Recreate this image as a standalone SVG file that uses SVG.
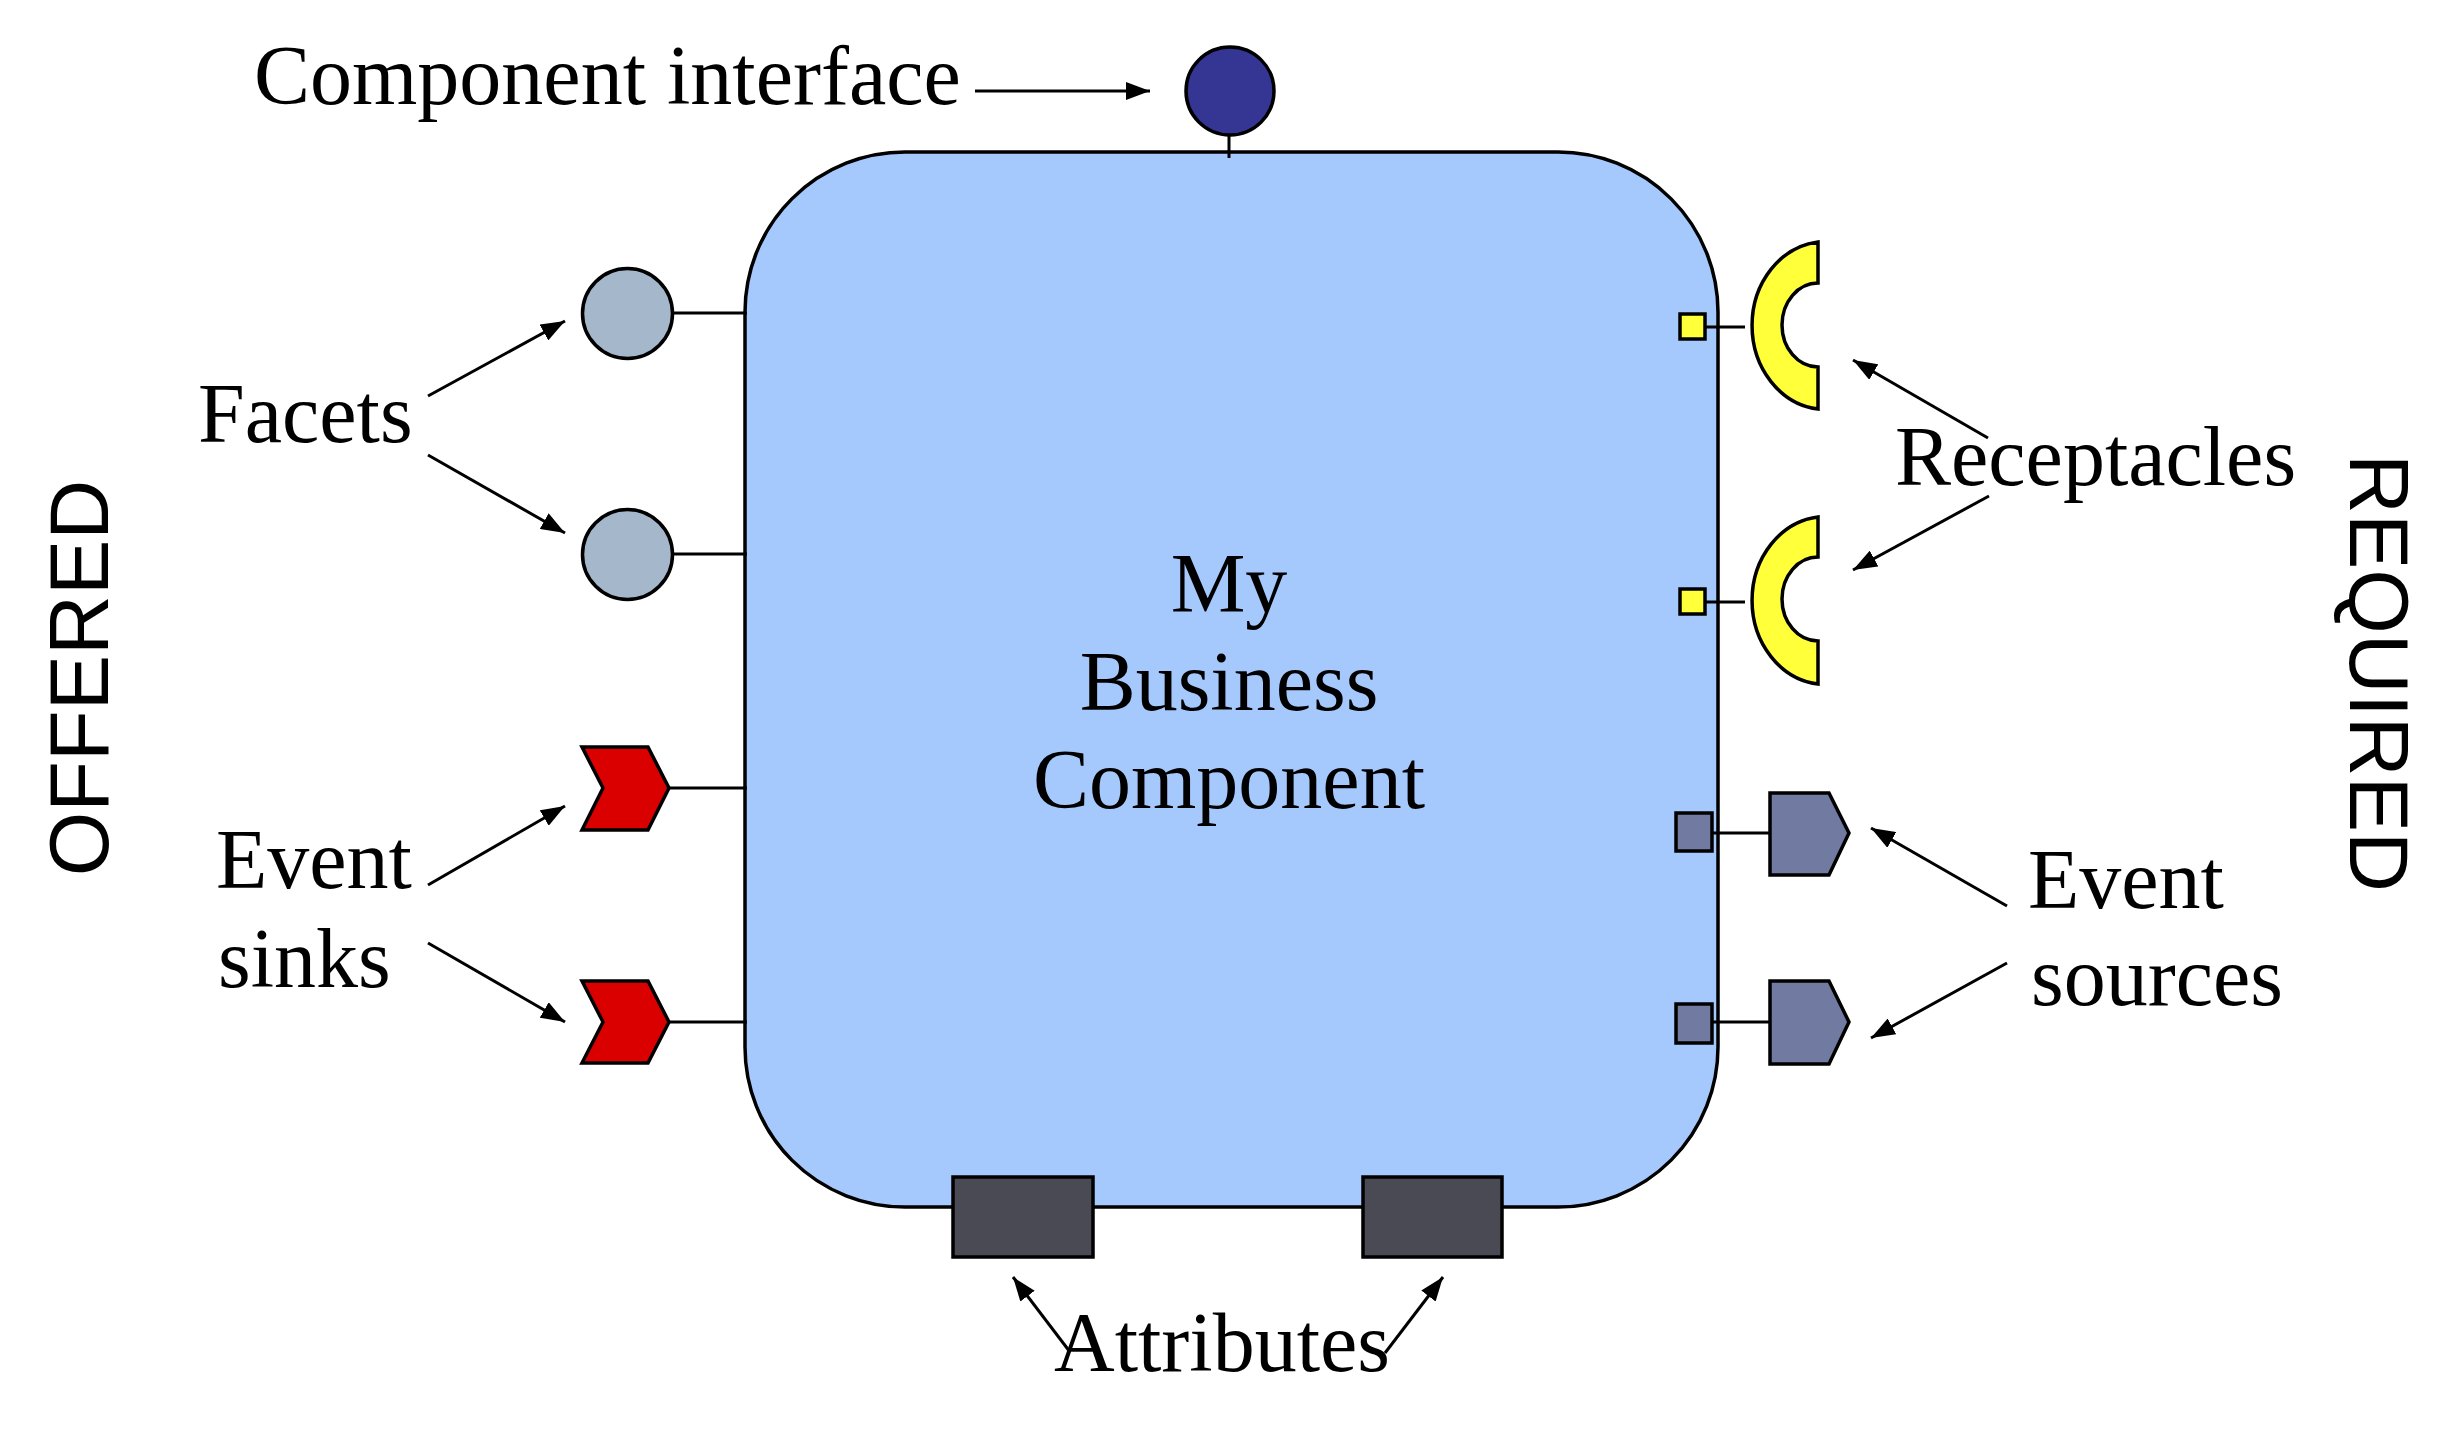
<svg xmlns="http://www.w3.org/2000/svg" width="2459" height="1444" viewBox="0 0 2459 1444">
<style>
.lbl{font-family:"Liberation Serif","Times New Roman",serif;font-size:84px;fill:#000}
.side{font-family:"Liberation Sans",Arial,sans-serif;font-size:83px;fill:#000}
.ol{stroke:#000;stroke-width:3.5}
.ln{stroke:#000;stroke-width:3;fill:none}
.arr{stroke:#000;stroke-width:3;fill:none;marker-end:url(#ah)}
</style>
<defs>
<marker id="ah" viewBox="0 0 24 18" refX="24" refY="9" markerWidth="24" markerHeight="18" markerUnits="userSpaceOnUse" orient="auto">
<path d="M0,0 L24,9 L0,18 z" fill="#000"/>
</marker>
</defs>
<rect width="2459" height="1444" fill="#fff"/>

<g id="component">
<rect x="745" y="152" width="973" height="1055" rx="160" ry="160" fill="#A6C9FD" class="ol"/>
<text class="lbl" x="1229" y="612" text-anchor="middle">My</text>
<text class="lbl" x="1229" y="710" text-anchor="middle">Business</text>
<text class="lbl" x="1229" y="808" text-anchor="middle">Component</text>
</g>

<g id="connectors">
<line class="ln" x1="1229" y1="134" x2="1229" y2="158"/>
<line class="ln" x1="673" y1="313" x2="747" y2="313"/>
<line class="ln" x1="673" y1="554" x2="747" y2="554"/>
<line class="ln" x1="669" y1="788" x2="747" y2="788"/>
<line class="ln" x1="669" y1="1022" x2="747" y2="1022"/>
<line class="ln" x1="1705" y1="327" x2="1745" y2="327"/>
<line class="ln" x1="1705" y1="602" x2="1745" y2="602"/>
<line class="ln" x1="1712" y1="833" x2="1770" y2="833"/>
<line class="ln" x1="1712" y1="1022" x2="1770" y2="1022"/>
<line class="arr" x1="975" y1="91" x2="1150" y2="91"/>
<line class="arr" x1="428" y1="396" x2="565" y2="321"/>
<line class="arr" x1="428" y1="455" x2="565" y2="533"/>
<line class="arr" x1="428" y1="885" x2="565" y2="806"/>
<line class="arr" x1="428" y1="943" x2="565" y2="1022"/>
<line class="arr" x1="1988" y1="438" x2="1853" y2="360"/>
<line class="arr" x1="1989" y1="496" x2="1853" y2="570"/>
<line class="arr" x1="2007" y1="906" x2="1871" y2="828"/>
<line class="arr" x1="2007" y1="963" x2="1871" y2="1038"/>
<line class="arr" x1="1070" y1="1352" x2="1013" y2="1277"/>
<line class="arr" x1="1385" y1="1353" x2="1443" y2="1277"/>
</g>

<g id="component-interface">
<circle cx="1230" cy="91" r="44" fill="#353594" class="ol"/>
<text class="lbl" x="254" y="104">Component interface</text>
</g>

<g id="facet-1"><circle cx="627.5" cy="313.5" r="45" fill="#A5B7CB" class="ol"/></g>
<g id="facet-2"><circle cx="627.5" cy="554.5" r="45" fill="#A5B7CB" class="ol"/></g>
<g id="facets-label"><text class="lbl" x="198" y="442">Facets</text></g>

<g id="sink-1"><polygon points="582,747 648,747 669,788 648,830 582,830 603,788" fill="#DB0000" class="ol"/></g>
<g id="sink-2"><polygon points="582,981 648,981 669,1022 648,1063 582,1063 603,1022" fill="#DB0000" class="ol"/></g>
<g id="sinks-label">
<text class="lbl" x="216" y="888">Event</text>
<text class="lbl" x="218" y="987">sinks</text>
</g>

<g id="receptacle-1">
<rect x="1680" y="314" width="25" height="25" fill="#FFFF3A" class="ol"/>
<path d="M1818,242 A74,84 0 0 0 1818,409 L1818,367 A36,42 0 0 1 1818,283 Z" fill="#FFFF3A" class="ol"/>
</g>
<g id="receptacle-2">
<rect x="1680" y="589" width="25" height="25" fill="#FFFF3A" class="ol"/>
<path d="M1818,517 A74,84 0 0 0 1818,684 L1818,641 A36,42 0 0 1 1818,557 Z" fill="#FFFF3A" class="ol"/>
</g>
<g id="receptacles-label"><text class="lbl" x="1895" y="485">Receptacles</text></g>

<g id="source-1">
<rect x="1676" y="813" width="36" height="38" fill="#717AA0" class="ol"/>
<polygon points="1770,793 1829,793 1849,833 1829,875 1770,875" fill="#717AA0" class="ol"/>
</g>
<g id="source-2">
<rect x="1676" y="1004" width="36" height="39" fill="#717AA0" class="ol"/>
<polygon points="1770,981 1829,981 1849,1022 1829,1064 1770,1064" fill="#717AA0" class="ol"/>
</g>
<g id="sources-label">
<text class="lbl" x="2028" y="908">Event</text>
<text class="lbl" x="2031" y="1005">sources</text>
</g>

<g id="attribute-1"><rect x="953" y="1177" width="140" height="80" fill="#4A4A55" class="ol"/></g>
<g id="attribute-2"><rect x="1363" y="1177" width="139" height="80" fill="#4A4A55" class="ol"/></g>
<g id="attributes-label"><text class="lbl" x="1222" y="1371" text-anchor="middle">Attributes</text></g>

<g id="offered"><text class="side" transform="translate(108,678) rotate(-90)" text-anchor="middle">OFFERED</text></g>
<g id="required"><text class="side" transform="translate(2350,673) rotate(90)" text-anchor="middle">REQUIRED</text></g>
</svg>
